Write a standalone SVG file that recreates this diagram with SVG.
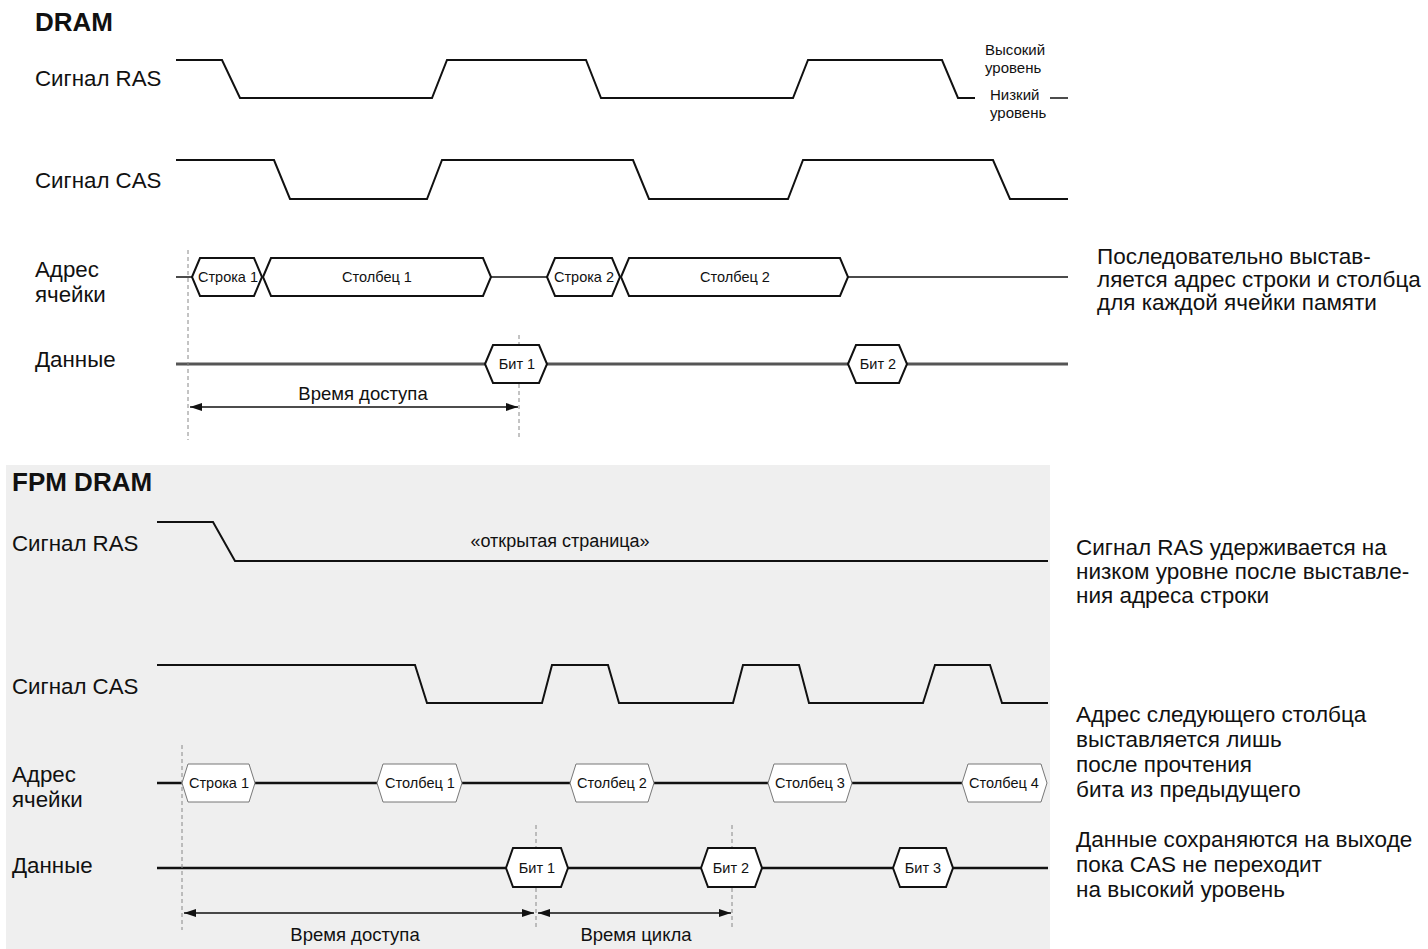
<svg xmlns="http://www.w3.org/2000/svg" width="1428" height="949" viewBox="0 0 1428 949">
<style>
text{font-family:"Liberation Sans",Arial,sans-serif;fill:#111}
.h{font-size:26px;font-weight:bold}
.lbl{font-size:22.3px}
.note{font-size:22.5px}
.sm{font-size:14.5px}
.xs{font-size:15px}
.op{font-size:18px}
.mid{font-size:18.5px}
.wave{fill:none;stroke:#111;stroke-width:2}
.bus{fill:none;stroke:#111;stroke-width:1.5}
.dbus{fill:none;stroke:#555;stroke-width:3}
.hex{fill:#fff;stroke:#111;stroke-width:2}
.hexl{fill:#fff;stroke:#777;stroke-width:1}
.dash{stroke:#888;stroke-width:1;stroke-dasharray:4 3;fill:none}
.arr{stroke:#111;stroke-width:1.5;fill:none;marker-start:url(#ah);marker-end:url(#ah)}
</style>
<defs>
<marker id="ah" viewBox="0 0 12 8" refX="12" refY="4" markerWidth="12" markerHeight="8" markerUnits="userSpaceOnUse" orient="auto-start-reverse">
<path d="M0,0 L12,4 L0,8 Z" fill="#111"/>
</marker>
</defs>
<rect width="1428" height="949" fill="#fff"/>
<rect id="fpm-bg" x="6" y="465" width="1044" height="484" fill="#efefef"/>

<g id="dram-title"><text class="h" x="35" y="31">DRAM</text></g>
<g id="dram-labels">
<text class="lbl" x="35" y="86">Сигнал RAS</text>
<text class="lbl" x="35" y="188">Сигнал CAS</text>
<text class="lbl" x="35" y="277">Адрес</text>
<text class="lbl" x="35" y="302">ячейки</text>
<text class="lbl" x="35" y="367">Данные</text>
</g>
<g id="legend">
<text class="xs" x="985" y="55">Высокий</text>
<text class="xs" x="985" y="73">уровень</text>
<text class="xs" x="990" y="100">Низкий</text>
<text class="xs" x="990" y="118">уровень</text>
<line x1="1050" y1="98" x2="1068" y2="98" stroke="#111" stroke-width="1.5"/>
</g>

<g id="connectors">
<path id="dram-ras" class="wave" d="M176,60 H222 L240,98 H432 L447,60 H586 L601,98 H793 L808,60 H942 L958,98 H975"/>
<path id="dram-cas" class="wave" d="M176,160 H274 L290,199 H427 L442,160 H633 L649,199 H788 L803,160 H993 L1010,199 H1068"/>
<path class="bus" d="M176,277 H192 M491,277 H547 M848,277 H1068"/>
<path class="dbus" d="M176,364 H485 M547,364 H848 M907,364 H1068"/>
<line class="dash" x1="188" y1="250" x2="188" y2="440"/>
<line class="dash" x1="519" y1="335" x2="519" y2="440"/>
<line class="arr" x1="190" y1="407" x2="518" y2="407"/>

<path id="fpm-ras" class="wave" d="M157,522 H213 L235,561 H1048"/>
<path id="fpm-cas" class="wave" d="M157,665 H415 L427,703 H542 L552,665 H608 L619,703 H733 L743,665 H799 L809,703 H923 L935,665 H990 L1002,703 H1048"/>
<path class="bus" style="stroke-width:2.5" d="M157,783 H182 M255,783 H377 M462,783 H570 M654,783 H768 M852,783 H962"/>
<path class="bus" style="stroke-width:2.5" d="M157,868 H506 M568,868 H701 M762,868 H893 M953,868 H1048"/>
<line class="dash" x1="182" y1="745" x2="182" y2="930"/>
<line class="dash" x1="536" y1="825" x2="536" y2="930"/>
<line class="dash" x1="732" y1="825" x2="732" y2="930"/>
<line class="arr" x1="184" y1="913" x2="534" y2="913"/>
<line class="arr" x1="538" y1="913" x2="731" y2="913"/>
</g>

<g id="dram-addr-row1"><polygon class="hex" points="192,277 200,258 254,258 262,277 254,296 200,296"/><text class="sm" x="228" y="282" text-anchor="middle">Строка 1</text></g>
<g id="dram-addr-col1"><polygon class="hex" points="263,277 271,258 483,258 491,277 483,296 271,296"/><text class="sm" x="377" y="282" text-anchor="middle">Столбец 1</text></g>
<g id="dram-addr-row2"><polygon class="hex" points="547,277 555,258 612,258 620,277 612,296 555,296"/><text class="sm" x="584" y="282" text-anchor="middle">Строка 2</text></g>
<g id="dram-addr-col2"><polygon class="hex" points="621,277 629,258 840,258 848,277 840,296 629,296"/><text class="sm" x="735" y="282" text-anchor="middle">Столбец 2</text></g>
<g id="dram-bit1"><polygon class="hex" points="485,364 493,345 539,345 547,364 539,383 493,383"/><text class="sm" x="517" y="369" text-anchor="middle">Бит 1</text></g>
<g id="dram-bit2"><polygon class="hex" points="848,364 856,345 899,345 907,364 899,383 856,383"/><text class="sm" x="878" y="369" text-anchor="middle">Бит 2</text></g>
<g id="dram-access"><text class="mid" x="363" y="400" text-anchor="middle">Время доступа</text></g>

<g id="dram-note">
<text class="note" x="1097" y="264">Последовательно выстав-</text>
<text class="note" x="1097" y="287">ляется адрес строки и столбца</text>
<text class="note" x="1097" y="310">для каждой ячейки памяти</text>
</g>

<g id="fpm-title"><text class="h" x="12" y="491">FPM DRAM</text></g>
<g id="fpm-labels">
<text class="lbl" x="12" y="551">Сигнал RAS</text>
<text class="lbl" x="12" y="694">Сигнал CAS</text>
<text class="lbl" x="12" y="782">Адрес</text>
<text class="lbl" x="12" y="807">ячейки</text>
<text class="lbl" x="12" y="873">Данные</text>
</g>
<g id="open-page"><text class="op" x="560" y="547" text-anchor="middle">«открытая страница»</text></g>

<g id="fpm-addr-row1"><polygon class="hexl" points="182,783 188,764 249,764 255,783 249,802 188,802"/><text class="sm" x="219" y="788" text-anchor="middle">Строка 1</text></g>
<g id="fpm-addr-col1"><polygon class="hexl" points="377,783 383,764 456,764 462,783 456,802 383,802"/><text class="sm" x="420" y="788" text-anchor="middle">Столбец 1</text></g>
<g id="fpm-addr-col2"><polygon class="hexl" points="570,783 576,764 648,764 654,783 648,802 576,802"/><text class="sm" x="612" y="788" text-anchor="middle">Столбец 2</text></g>
<g id="fpm-addr-col3"><polygon class="hexl" points="768,783 774,764 846,764 852,783 846,802 774,802"/><text class="sm" x="810" y="788" text-anchor="middle">Столбец 3</text></g>
<g id="fpm-addr-col4"><polygon class="hexl" points="962,783 968,764 1041,764 1047,783 1041,802 968,802"/><text class="sm" x="1004" y="788" text-anchor="middle">Столбец 4</text></g>
<g id="fpm-bit1"><polygon class="hex" points="506,868 513,848 561,848 568,868 561,887 513,887"/><text class="sm" x="537" y="873" text-anchor="middle">Бит 1</text></g>
<g id="fpm-bit2"><polygon class="hex" points="701,868 708,848 755,848 762,868 755,887 708,887"/><text class="sm" x="731" y="873" text-anchor="middle">Бит 2</text></g>
<g id="fpm-bit3"><polygon class="hex" points="893,868 900,848 946,848 953,868 946,887 900,887"/><text class="sm" x="923" y="873" text-anchor="middle">Бит 3</text></g>
<g id="fpm-access"><text class="mid" x="355" y="941" text-anchor="middle">Время доступа</text></g>
<g id="fpm-cycle"><text class="mid" x="636" y="941" text-anchor="middle">Время цикла</text></g>

<g id="fpm-note1">
<text class="note" x="1076" y="555">Сигнал RAS удерживается на</text>
<text class="note" x="1076" y="579">низком уровне после выставле-</text>
<text class="note" x="1076" y="603">ния адреса строки</text>
</g>
<g id="fpm-note2">
<text class="note" x="1076" y="722">Адрес следующего столбца</text>
<text class="note" x="1076" y="747">выставляется лишь</text>
<text class="note" x="1076" y="772">после прочтения</text>
<text class="note" x="1076" y="797">бита из предыдущего</text>
</g>
<g id="fpm-note3">
<text class="note" x="1076" y="847">Данные сохраняются на выходе</text>
<text class="note" x="1076" y="872">пока CAS не переходит</text>
<text class="note" x="1076" y="897">на высокий уровень</text>
</g>
</svg>
